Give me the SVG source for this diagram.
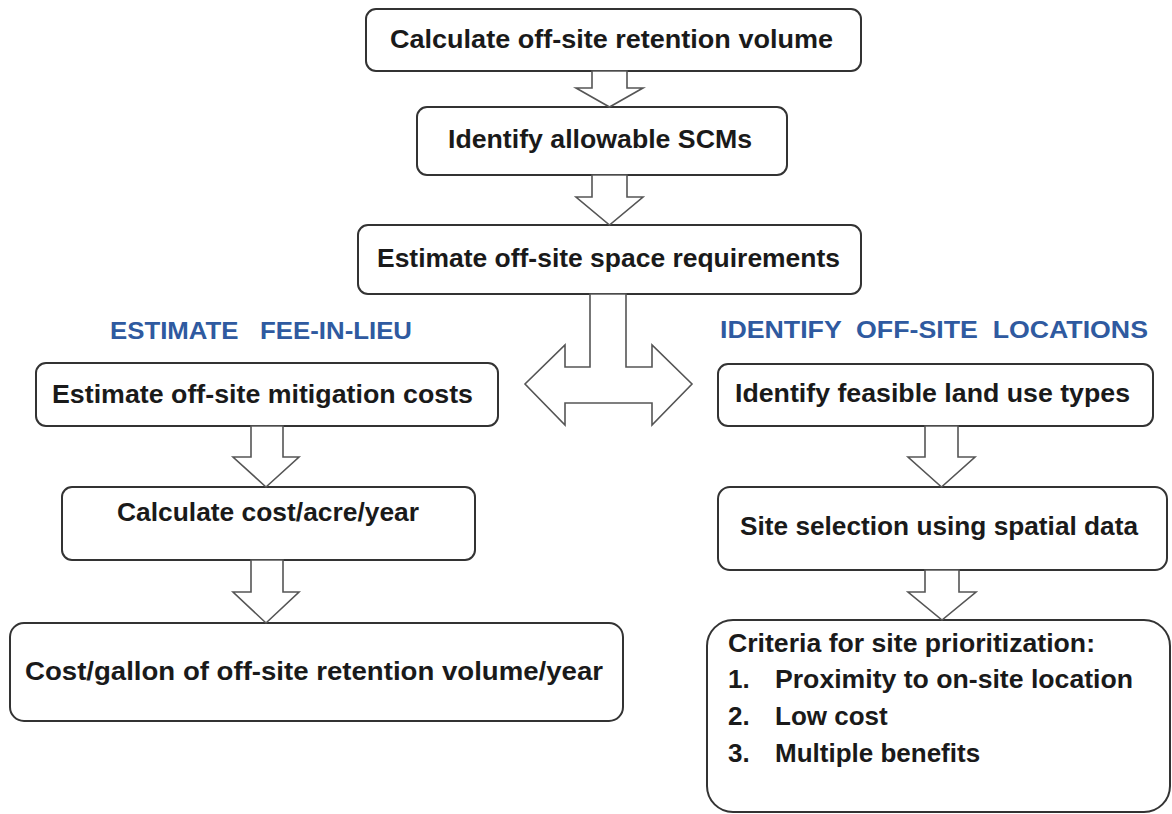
<svg xmlns="http://www.w3.org/2000/svg" width="1172" height="814" viewBox="0 0 1172 814">
<style>
.box{fill:#fff;stroke:#333;stroke-width:2}
.arr{fill:#fff;stroke:#555;stroke-width:1.6;stroke-linejoin:miter}
.t{font-family:"Liberation Sans",Arial,sans-serif;font-weight:bold;font-size:26px;fill:#1a1a1a}
.h{font-family:"Liberation Sans",Arial,sans-serif;font-weight:bold;font-size:23px;fill:#2F5AA0}
</style>
<rect width="1172" height="814" fill="#fff"/>
<g id="n1"><rect class="box" x="366" y="9" width="495" height="62" rx="10"/><text class="t" x="390" y="48" textLength="443" lengthAdjust="spacingAndGlyphs">Calculate off-site retention volume</text></g>
<g id="n2"><rect class="box" x="417" y="107" width="370" height="68" rx="10"/><text class="t" x="448" y="148" textLength="304" lengthAdjust="spacingAndGlyphs">Identify allowable SCMs</text></g>
<g id="n3"><rect class="box" x="358" y="225" width="503" height="69" rx="10"/><text class="t" x="377" y="267" textLength="463" lengthAdjust="spacingAndGlyphs">Estimate off-site space requirements</text></g>
<g id="h1"><text class="h" x="110" y="339" textLength="302" lengthAdjust="spacingAndGlyphs" xml:space="preserve">ESTIMATE   FEE-IN-LIEU</text></g>
<g id="h2"><text class="h" x="720" y="338" textLength="428" lengthAdjust="spacingAndGlyphs" xml:space="preserve">IDENTIFY  OFF-SITE  LOCATIONS</text></g>
<g id="l1"><rect class="box" x="36" y="363" width="462" height="63" rx="10"/><text class="t" x="52" y="403" textLength="421" lengthAdjust="spacingAndGlyphs">Estimate off-site mitigation costs</text></g>
<g id="l2"><rect class="box" x="62" y="487" width="413" height="73" rx="10"/><text class="t" x="117" y="521" textLength="302" lengthAdjust="spacingAndGlyphs">Calculate cost/acre/year</text></g>
<g id="l3"><rect class="box" x="10" y="623" width="613" height="98" rx="14"/><text class="t" x="25" y="680" textLength="578" lengthAdjust="spacingAndGlyphs">Cost/gallon of off-site retention volume/year</text></g>
<g id="r1"><rect class="box" x="718" y="364" width="435" height="62" rx="10"/><text class="t" x="735" y="402" textLength="395" lengthAdjust="spacingAndGlyphs">Identify feasible land use types</text></g>
<g id="r2"><rect class="box" x="718" y="487" width="449" height="83" rx="12"/><text class="t" x="740" y="535" textLength="398" lengthAdjust="spacingAndGlyphs">Site selection using spatial data</text></g>
<g id="r3"><rect class="box" x="707" y="620" width="463" height="192" rx="26"/>
<text class="t" x="728" y="652" textLength="367" lengthAdjust="spacingAndGlyphs">Criteria for site prioritization:</text>
<text class="t" x="728" y="688">1.</text><text class="t" x="775" y="688" textLength="358" lengthAdjust="spacingAndGlyphs">Proximity to on-site location</text>
<text class="t" x="728" y="725">2.</text><text class="t" x="775" y="725">Low cost</text>
<text class="t" x="728" y="762">3.</text><text class="t" x="775" y="762">Multiple benefits</text>
</g>
<g id="connectors">
<polygon class="arr" points="592,71 592,88 576,88 609.5,107 643,88 627,88 627,71"/>
<polygon class="arr" points="592,175 592,197 576,197 609.5,225 643,197 627,197 627,175"/>
<polygon class="arr" points="590,294 590,367 565,367 565,345 525,384 565,425 565,403 652,403 652,425 692,384 652,345 652,367 626,367 626,294"/>
<polygon class="arr" points="251,426 251,457 233,457 266,487 299,457 283,457 283,426"/>
<polygon class="arr" points="251,560 251,592 233,592 266,623 299,592 283,592 283,560"/>
<polygon class="arr" points="925,426 925,457 908,457 941.5,487 975,457 958,457 958,426"/>
<polygon class="arr" points="925,570 925,592 908,592 942,620 976,592 959,592 959,570"/>
</g>
</svg>
